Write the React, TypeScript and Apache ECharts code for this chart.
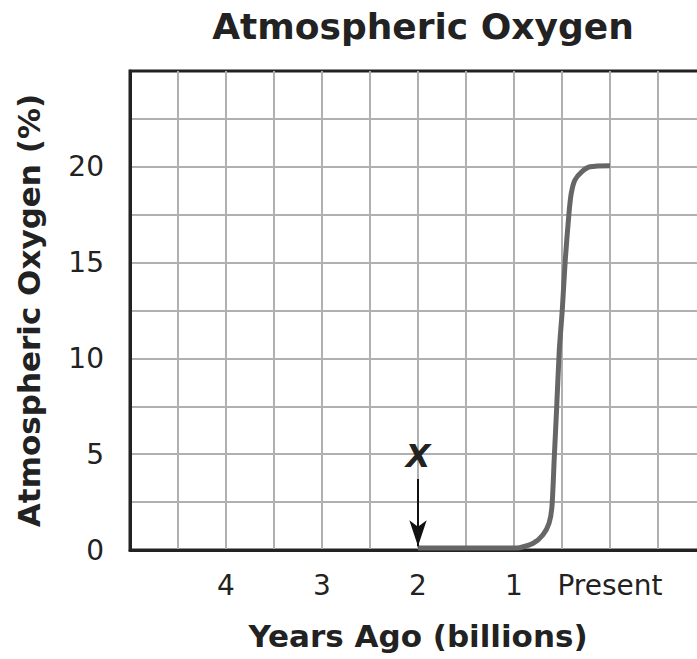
import React, { useEffect, useRef } from "react";
import * as echarts from "echarts";

const titleText = "Atmospheric Oxygen";
const xAxisName = "Years Ago (billions)";
const yAxisName = "Atmospheric Oxygen (%)";
const xLabelValues = [4, 3, 2, 1];
const presentLabel = "Present";
const yLabelValues = [0, 5, 10, 15, 20];
// [billions of years ago, oxygen %]
const oxygenCurve: [number, number][] = [
  [2, 0.1],
  [1.5, 0.1],
  [1.0, 0.1],
  [0.94, 0.12],
  [0.8, 0.35],
  [0.7, 0.78],
  [0.635, 1.4],
  [0.605, 2.26],
  [0.58, 4.87],
  [0.555, 7.48],
  [0.528, 10.44],
  [0.497, 12.53],
  [0.466, 15.14],
  [0.427, 17.59],
  [0.403, 18.63],
  [0.365, 19.31],
  [0.295, 19.74],
  [0.208, 20.0],
  [0, 20.06],
];
const markerX = 2;
const markerTop = 3.7;
const markerBottom = 0.2;
const markerLabel = "X";

const FONT = "DejaVu Sans, Verdana, sans-serif";

export default function App() {
  const ref = useRef<HTMLDivElement>(null);
  useEffect(() => {
    if (!ref.current) return;
    const chart = echarts.init(ref.current, undefined, { renderer: "svg" });
    chart.setOption({
      animation: false,
      backgroundColor: "#ffffff",
      title: {
        text: titleText,
        left: 418,
        top: 3,
        textAlign: "center",
        textStyle: { fontFamily: FONT, fontSize: 36, fontWeight: "bold", color: "#222" },
      },
      grid: {
        left: 130,
        top: 71,
        width: 576,
        height: 479,
        outerBoundsMode: "none",
        containLabel: false,
        show: true,
        borderColor: "#222",
        borderWidth: 3,
        backgroundColor: "transparent",
      },
      xAxis: {
        type: "value",
        min: -1,
        max: 5,
        interval: 0.5,
        inverse: true,
        name: xAxisName,
        nameLocation: "middle",
        nameGap: 70,
        nameTextStyle: { fontFamily: FONT, fontSize: 31, fontWeight: "bold", color: "#222" },
        axisLine: { show: true, onZero: false, lineStyle: { color: "#222", width: 3 } },
        axisTick: { show: false },
        axisLabel: {
          fontFamily: FONT,
          fontSize: 28,
          color: "#222",
          margin: 21,
          showMinLabel: true,
          showMaxLabel: true,
          formatter: (v: number) => {
            if (Math.abs(v) < 1e-9) return presentLabel;
            const r = Math.round(v);
            if (Math.abs(v - r) < 1e-9 && xLabelValues.includes(r)) return String(r);
            return "";
          },
        },
        splitLine: {
          show: true,
          showMinLine: false,
          showMaxLine: false,
          lineStyle: { color: "#b0b0b0", width: 2 },
        },
      },
      yAxis: {
        type: "value",
        min: 0,
        max: 25,
        interval: 2.5,
        name: yAxisName,
        nameLocation: "middle",
        nameGap: 86,
        nameTextStyle: { fontFamily: FONT, fontSize: 31, fontWeight: "bold", color: "#222" },
        axisLine: { show: true, onZero: false, lineStyle: { color: "#222", width: 3 } },
        axisTick: { show: false },
        axisLabel: {
          fontFamily: FONT,
          fontSize: 28,
          color: "#222",
          margin: 26,
          formatter: (v: number) => {
            const r = Math.round(v);
            if (Math.abs(v - r) < 1e-9 && yLabelValues.includes(r)) return String(r);
            return "";
          },
        },
        splitLine: {
          show: true,
          showMinLine: false,
          showMaxLine: false,
          lineStyle: { color: "#b0b0b0", width: 2 },
        },
      },
      series: [
        {
          type: "line",
          data: oxygenCurve,
          smooth: 0.25,
          showSymbol: false,
          symbol: "none",
          lineStyle: { color: "#666666", width: 5, cap: "butt", join: "round" },
          z: 3,
          markLine: {
            silent: true,
            symbol: ["none", "arrow"],
            symbolSize: [13, 26],
            lineStyle: { color: "#111", width: 2, type: "solid" },
            label: {
              show: true,
              position: "start",
              formatter: markerLabel,
              fontFamily: FONT,
              fontSize: 32,
              fontWeight: "bold",
              fontStyle: "italic",
              color: "#222",
              distance: 7,
            },
            data: [
              [
                { coord: [markerX, markerTop] },
                { coord: [markerX, markerBottom] },
              ],
            ],
          },
        },
      ],
    });
    return () => chart.dispose();
  }, []);
  return (
    <div
      ref={ref}
      style={{ position: "absolute", left: 0, top: 0, width: 697, height: 659 }}
    />
  );
}
